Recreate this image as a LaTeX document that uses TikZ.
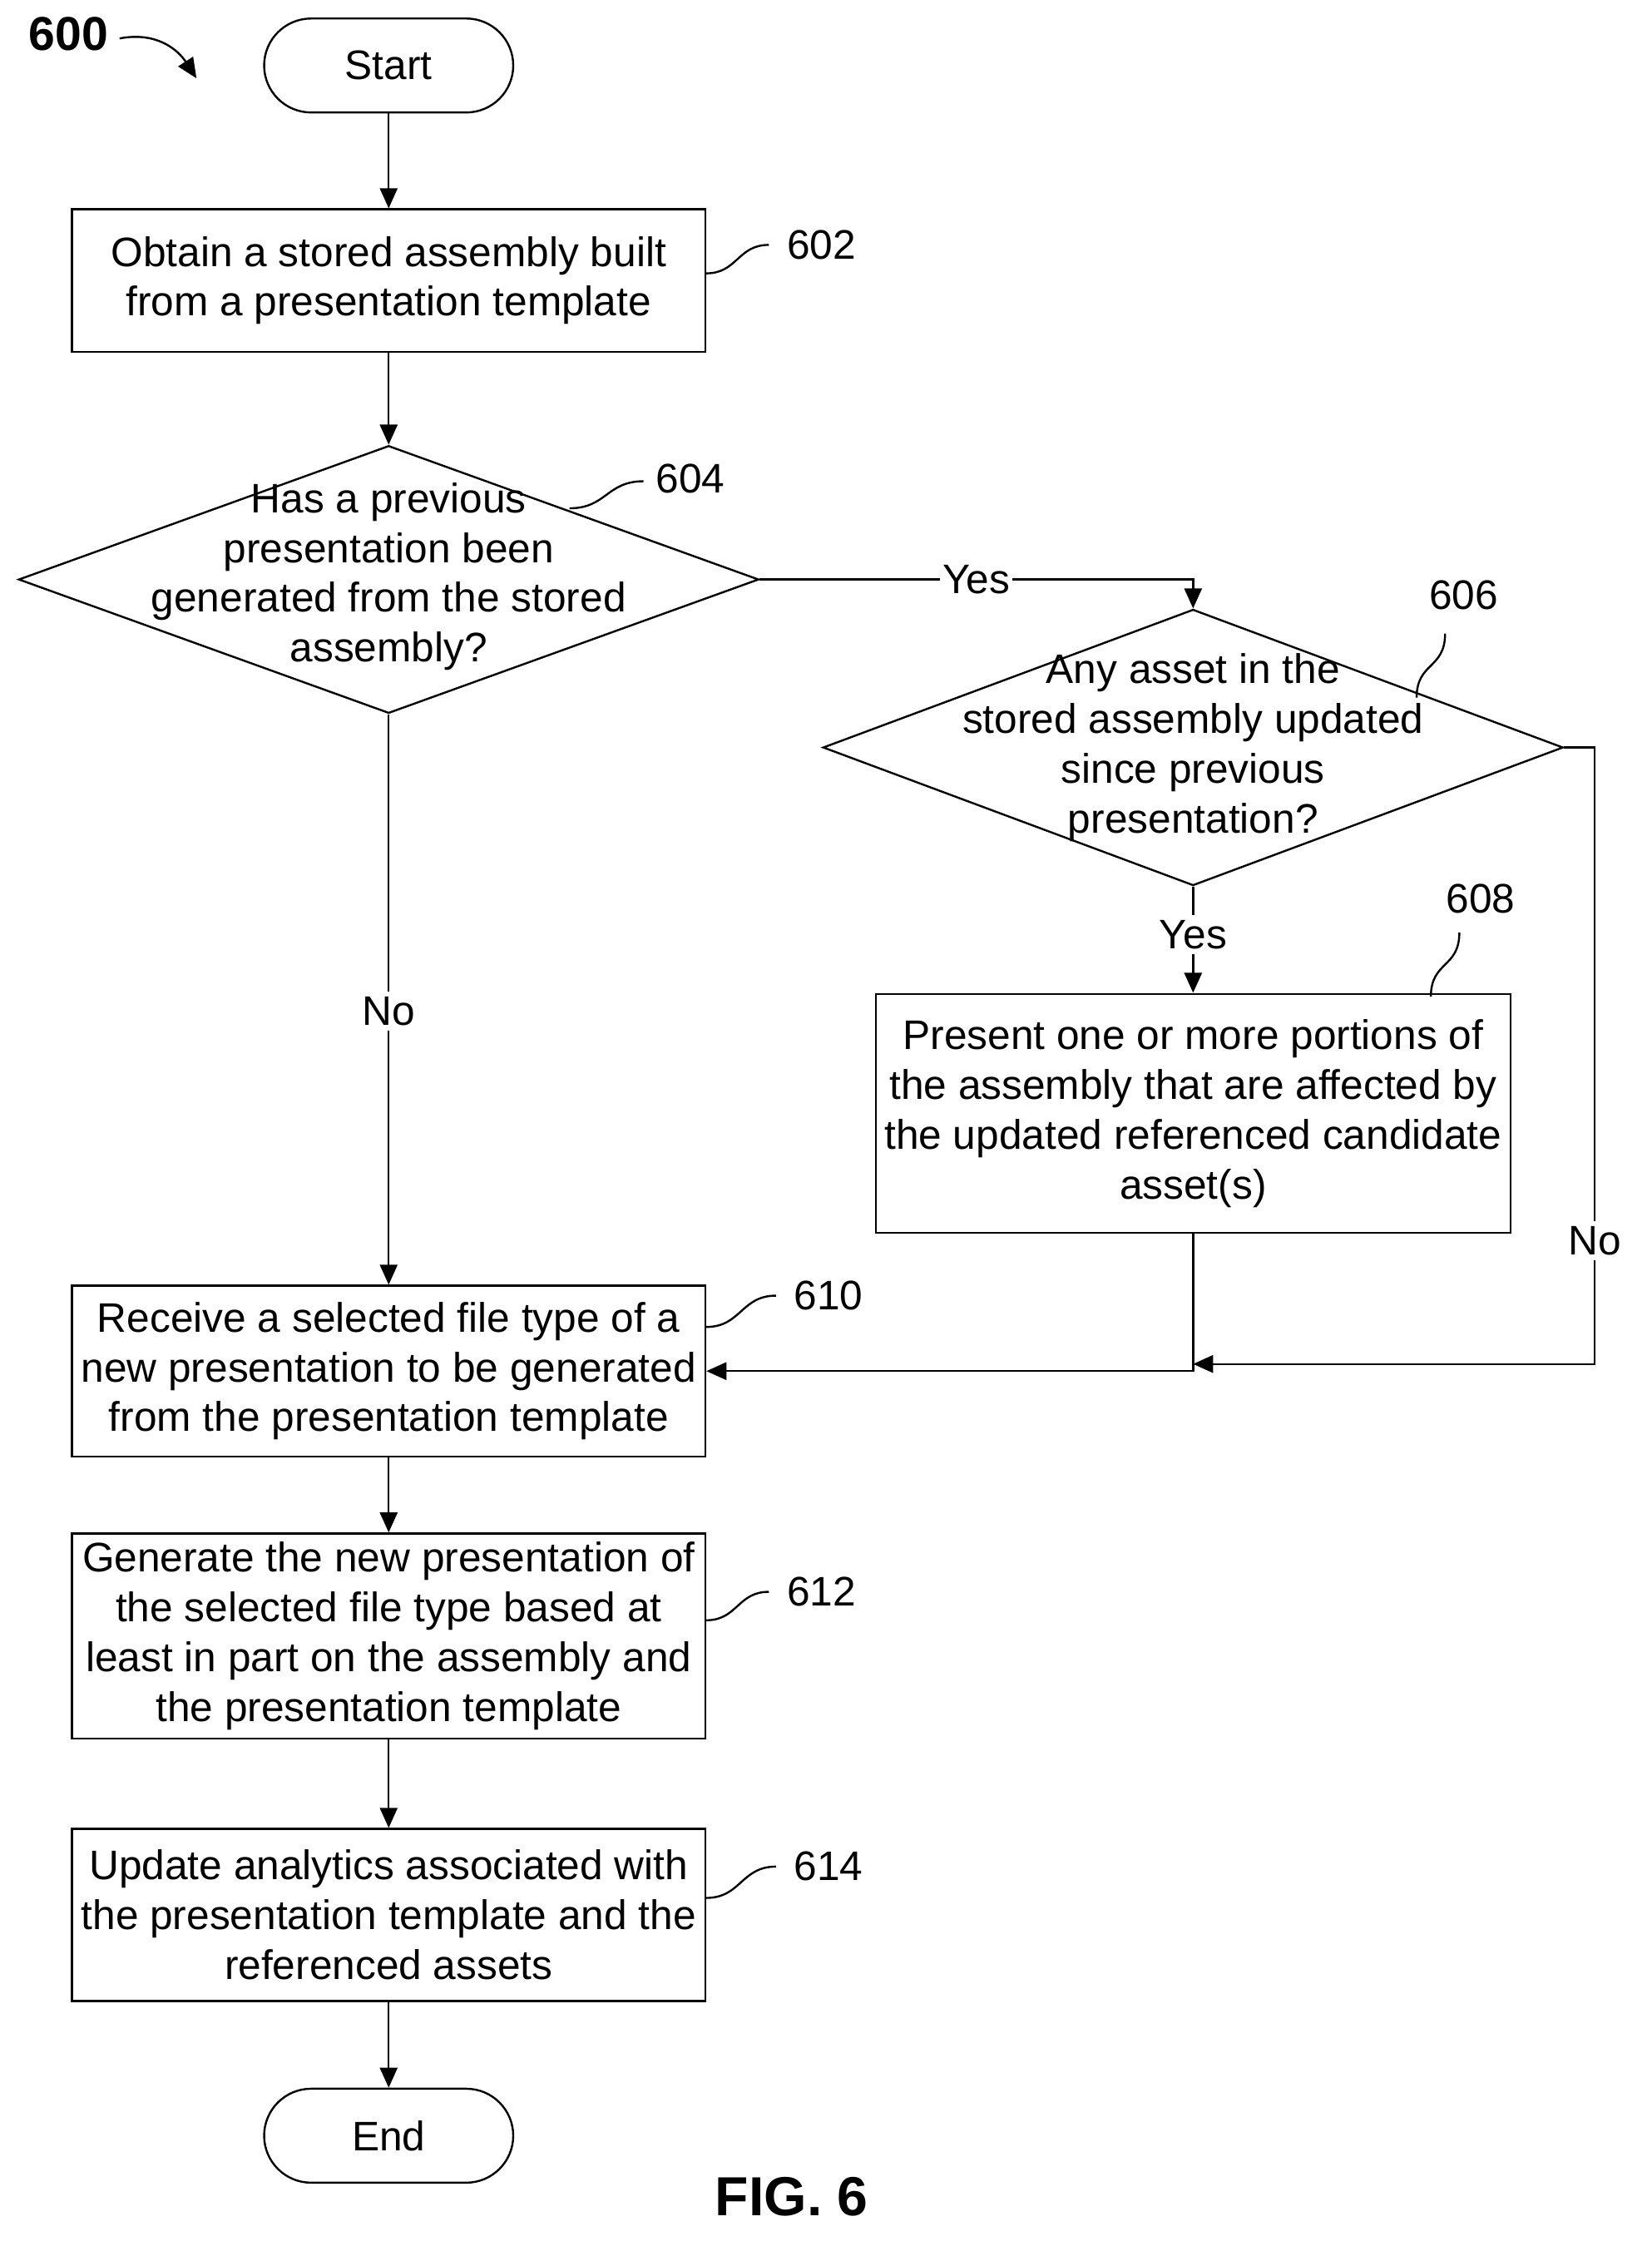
\documentclass[tikz,border=0pt]{standalone}
\usepackage{fontspec}
\setmainfont{Liberation Sans}
\usetikzlibrary{shapes.geometric,arrows.meta}
\tikzset{
  box/.style={draw,thick,align=center,inner sep=2pt},
  term/.style={draw,thick,rounded corners=33*0.02cm,minimum width=3.5cm,minimum height=1.32cm},
  dec/.style={draw,thick,diamond,inner sep=0pt},
  flow/.style={thick,-{Triangle[length=8pt,width=7pt]}},
  squig/.style={thick},
}
\begin{document}
\begin{tikzpicture}[x=0.02cm,y=-0.02cm,font=\fontsize{16.5}{19.9}\selectfont]
\useasboundingbox (0,0) rectangle (1160,1581);

\node[term] (start) at (273,46) {Start};
\node[box,minimum width=8.9cm,minimum height=2cm] (b602) at (273,197) {Obtain a stored assembly built\\from a presentation template};
\node[dec,minimum width=10.4cm,minimum height=3.76cm] (d604) at (273,407) {};
\node[align=center] at (273,405) {Has a previous\\presentation been\\generated from the stored\\assembly?};
\node[dec,minimum width=10.4cm,minimum height=3.88cm] (d606) at (838,525) {};
\node[align=center] at (838,525) {Any asset in the\\stored assembly updated\\since previous\\presentation?};
\node[box,minimum width=8.92cm,minimum height=3.36cm] (b608) at (838,782) {Present one or more portions of\\the assembly that are affected by\\the updated referenced candidate\\asset(s)};
\node[box,minimum width=8.9cm,minimum height=2.4cm] (b610) at (273,963) {Receive a selected file type of a\\new presentation to be generated\\from the presentation template};
\node[box,minimum width=8.9cm,minimum height=2.88cm] (b612) at (273,1149) {Generate the new presentation of\\the selected file type based at\\least in part on the assembly and\\the presentation template};
\node[box,minimum width=8.9cm,minimum height=2.42cm] (b614) at (273,1345) {Update analytics associated with\\the presentation template and the\\referenced assets};
\node[term] (end) at (273,1500) {End};

% connectors
\draw[flow] (start) -- (b602);
\draw[flow] (b602) -- (d604);
\draw[flow] (d604.east) -- node[fill=white,inner sep=1pt] {Yes} (838,407) -- (d606.north);
\draw[flow] (d604.south) -- node[fill=white,inner sep=2pt,pos=0.52] {No} (b610.north);
\draw[flow] (d606.south) -- node[fill=white,inner sep=2pt,pos=0.45] {Yes} (b608.north);
\coordinate (join) at (838,963);
\draw[flow] (b608.south) -- (join) -- (b610.east);
\draw[flow] (d606.east) -- (1120,525) -- node[fill=white,inner sep=2pt,pos=0.8] {No} (1120,958) -- (838,958);
\draw[flow] (b610) -- (b612);
\draw[flow] (b612) -- (b614);
\draw[flow] (b614) -- (end);

% reference numerals
\node[font=\fontsize{19}{22}\selectfont\bfseries] (n600) at (48,24) {600};
\draw[flow] (84,27) .. controls (110,22) and (125,35) .. (138,55);
\foreach \nm/\x/\y/\ax/\ay/\bx/\by in {602/577/172/496/192/540/172,604/485/336/400/357/452/338,
  610/582/910/496/932/545/910,612/577/1118/496/1138/540/1118,614/582/1311/496/1333/545/1311}{
  \node (r\nm) at (\x,\y) {\nm};
  \draw[squig] (\ax,\ay) .. controls ({(\ax+\bx)/2},\ay) and ({(\ax+\bx)/2},\by) .. (\bx,\by);
}
\node (r606) at (1028,418) {606};
\draw[squig] (995,490) .. controls (995,465) and (1015,470) .. (1015,445);
\node (r608) at (1040,631) {608};
\draw[squig] (1005,700) .. controls (1005,675) and (1025,680) .. (1025,655);

\node[font=\fontsize{22}{26}\selectfont\bfseries] (fig) at (556,1543) {FIG. 6};
\end{tikzpicture}
\end{document}
